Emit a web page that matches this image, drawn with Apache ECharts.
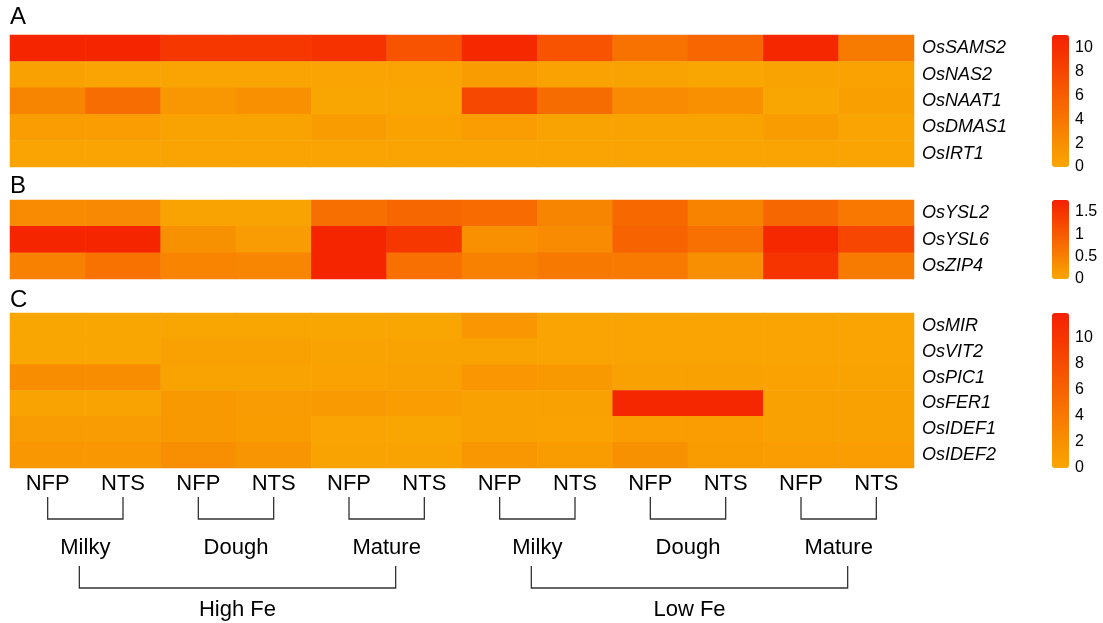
<!DOCTYPE html>
<html>
<head>
<meta charset="utf-8">
<title>Fe-related gene expression heatmaps</title>
<script src="https://cdn.jsdelivr.net/npm/echarts@6.0.0/dist/echarts.min.js"></script>
<style>
  html, body { margin: 0; padding: 0; background: #fff; }
  #chart { width: 1103px; height: 623px; }
</style>
</head>
<body>
<div id="chart"></div>
<script>
// Sample columns: tissue (NFP / NTS) x stage x Fe treatment
const sampleLabels = ['NFP', 'NTS', 'NFP', 'NTS', 'NFP', 'NTS', 'NFP', 'NTS', 'NFP', 'NTS', 'NFP', 'NTS'];
const stageLabels = ['Milky', 'Dough', 'Mature', 'Milky', 'Dough', 'Mature'];
const treatmentLabels = ['High Fe', 'Low Fe'];

// Panel A: Fe uptake / MA biosynthesis genes
const genesA = ['OsSAMS2', 'OsNAS2', 'OsNAAT1', 'OsDMAS1', 'OsIRT1'];
const OsSAMS2 = [10.7, 10.7, 9.2, 9.2, 9.6, 6.9, 10.4, 6.9, 4.3, 5.3, 10.5, 3.6];
const OsNAS2  = [0.4, 0.15, 0.15, 0.15, 0.15, 0.15, 0.8, 0.35, 0.25, 0.1, 0.25, 0.3];
const OsNAAT1 = [2.75, 4.7, 1.25, 1.8, 0.1, 0.1, 7.75, 4.8, 2.25, 1.8, 0.1, 0.6];
const OsDMAS1 = [0.75, 0.75, 0.25, 0.25, 0.85, 0.35, 0.75, 0.25, 0.25, 0.25, 0.85, 0.2];
const OsIRT1  = [0.2, 0.2, 0.15, 0.15, 0.15, 0.15, 0.2, 0.15, 0.15, 0.15, 0.15, 0.15];
const ticksA = [0, 2, 4, 6, 8, 10];
const maxA = 11.1;

// Panel B: transporter genes
const genesB = ['OsYSL2', 'OsYSL6', 'OsZIP4'];
const OsYSL2 = [0.35, 0.38, 0.04, 0.04, 0.74, 0.83, 0.77, 0.43, 0.81, 0.46, 0.83, 0.6];
const OsYSL6 = [1.7, 1.7, 0.28, 0.15, 1.7, 1.45, 0.29, 0.36, 0.88, 0.71, 1.65, 1.26];
const OsZIP4 = [0.49, 0.68, 0.45, 0.42, 1.7, 0.71, 0.49, 0.59, 0.58, 0.32, 1.5, 0.57];
const ticksB = [0, 0.5, 1, 1.5];
const maxB = 1.76;

// Panel C: storage / regulatory genes
const genesC = ['OsMIR', 'OsVIT2', 'OsPIC1', 'OsFER1', 'OsIDEF1', 'OsIDEF2'];
const OsMIR   = [0.1, 0.1, 0.1, 0.1, 0.1, 0.1, 1.4, 0.15, 0.15, 0.15, 0.15, 0.15];
const OsVIT2  = [0.1, 0.1, 0.45, 0.45, 0.25, 0.25, 0.3, 0.2, 0.2, 0.2, 0.2, 0.2];
const OsPIC1  = [2.2, 2.2, 0.25, 0.25, 0.35, 0.45, 1.4, 1.15, 0.45, 0.45, 0.35, 0.3];
const OsFER1  = [0.25, 0.25, 1.15, 1.0, 1.1, 0.8, 0.45, 0.45, 11.3, 11.3, 0.45, 0.4];
const OsIDEF1 = [1.0, 1.0, 1.15, 0.9, 0.2, 0.1, 0.45, 0.35, 0.8, 0.8, 0.45, 0.45];
const OsIDEF2 = [1.3, 1.3, 2.0, 1.5, 0.3, 0.3, 1.3, 0.9, 1.9, 0.9, 0.8, 0.8];
const ticksC = [0, 2, 4, 6, 8, 10];
const maxC = 11.9;

const rowsA = [OsSAMS2, OsNAS2, OsNAAT1, OsDMAS1, OsIRT1];
const rowsB = [OsYSL2, OsYSL6, OsZIP4];
const rowsC = [OsMIR, OsVIT2, OsPIC1, OsFER1, OsIDEF1, OsIDEF2];

const FONT = "'Liberation Sans', Arial, sans-serif";
const LOW = '#F9A602';
const HIGH = '#F52000';

function toCells(rows) {
  const out = [];
  rows.forEach((row, r) => row.forEach((v, c) => out.push([c, r, v])));
  return out;
}

// Heatmap panel boxes (pixels)
const panels = [
  { top: 35,  height: 132, genes: genesA, rows: rowsA, max: maxA, ticks: ticksA },
  { top: 200, height: 79,  genes: genesB, rows: rowsB, max: maxB, ticks: ticksB },
  { top: 313, height: 155, genes: genesC, rows: rowsC, max: maxC, ticks: ticksC }
];
const PLOT_LEFT = 10, PLOT_RIGHT = 914;
const BAR_LEFT = 1052, BAR_W = 17;

const grid = [], xAxis = [], yAxis = [], series = [], visualMap = [];

panels.forEach((p, i) => {
  grid.push({ left: PLOT_LEFT, width: PLOT_RIGHT - PLOT_LEFT, top: p.top, height: p.height });
  xAxis.push({
    type: 'category', gridIndex: i, data: sampleLabels,
    axisLine: { show: false }, axisTick: { show: false }, splitLine: { show: false },
    axisLabel: i === 2
      ? { show: true, interval: 0, color: '#000', fontSize: 22, fontFamily: FONT, margin: 5 }
      : { show: false }
  });
  yAxis.push({
    type: 'category', gridIndex: i, data: p.genes, inverse: true, position: 'right',
    axisLine: { show: false }, axisTick: { show: false }, splitLine: { show: false },
    axisLabel: { color: '#000', fontSize: 18, fontStyle: 'italic', fontFamily: FONT, margin: 8 }
  });
  series.push({
    type: 'heatmap', xAxisIndex: i, yAxisIndex: i,
    data: toCells(p.rows),
    itemStyle: { borderWidth: 0 },
    emphasis: { disabled: true }
  });
  visualMap.push({
    type: 'continuous', seriesIndex: i, min: 0, max: p.max,
    inRange: { color: [LOW, HIGH] },
    calculable: false, hoverLink: false,
    left: BAR_LEFT, top: p.top, padding: 0,
    itemWidth: BAR_W, itemHeight: p.height,
    orient: 'vertical'
  });
});

// Colour-bar scales: small grids holding only a value axis
panels.forEach((p, i) => {
  const g = grid.length;
  grid.push({ left: BAR_LEFT + BAR_W, width: 1, top: p.top, height: p.height });
  xAxis.push({ type: 'value', gridIndex: g, show: false });
  yAxis.push({
    type: 'value', gridIndex: g, position: 'right', min: 0, max: p.max,
    interval: p.ticks[1] - p.ticks[0],
    axisLine: { show: false }, axisTick: { show: false }, splitLine: { show: false },
    axisLabel: { color: '#000', fontSize: 16, fontFamily: FONT, margin: 5, showMaxLabel: false }
  });
});

const chart = echarts.init(document.getElementById('chart'), null, { renderer: 'canvas' });
chart.setOption({
  animation: false,
  backgroundColor: '#fff',
  textStyle: { fontFamily: FONT },
  title: [
    { text: 'A', left: 10, top: 5 },
    { text: 'B', left: 10, top: 174 },
    { text: 'C', left: 10, top: 288 }
  ].map(t => Object.assign(t, { padding: 0, textStyle: { fontSize: 24, fontWeight: 'normal', color: '#000', fontFamily: FONT } })),
  grid, xAxis, yAxis, series, visualMap
});

// Sample-group brackets under panel C, placed from the category axis
const colX = sampleLabels.map((_, c) => chart.convertToPixel({ xAxisIndex: 2 }, c));
const LINE = { stroke: '#333', lineWidth: 1.3, fill: null };
const graphics = [];
const stageCenters = [];
stageLabels.forEach((s, k) => {
  const x1 = colX[2 * k], x2 = colX[2 * k + 1];
  graphics.push({
    type: 'polyline', silent: true,
    shape: { points: [[x1, 497], [x1, 519], [x2, 519], [x2, 497]] },
    style: LINE
  });
  const cx = (x1 + x2) / 2;
  stageCenters.push(cx);
  graphics.push({
    type: 'text', silent: true, x: cx, y: 548,
    style: { text: s, fontSize: 22, fontFamily: FONT, fill: '#000', align: 'center', verticalAlign: 'middle' }
  });
});
treatmentLabels.forEach((t, k) => {
  const x1 = stageCenters[3 * k] - 6, x2 = stageCenters[3 * k + 2] + 9;
  graphics.push({
    type: 'polyline', silent: true,
    shape: { points: [[x1, 566], [x1, 588], [x2, 588], [x2, 566]] },
    style: LINE
  });
  graphics.push({
    type: 'text', silent: true, x: (x1 + x2) / 2, y: 610,
    style: { text: t, fontSize: 22, fontFamily: FONT, fill: '#000', align: 'center', verticalAlign: 'middle' }
  });
});
chart.setOption({ graphic: graphics });
</script>
</body>
</html>
